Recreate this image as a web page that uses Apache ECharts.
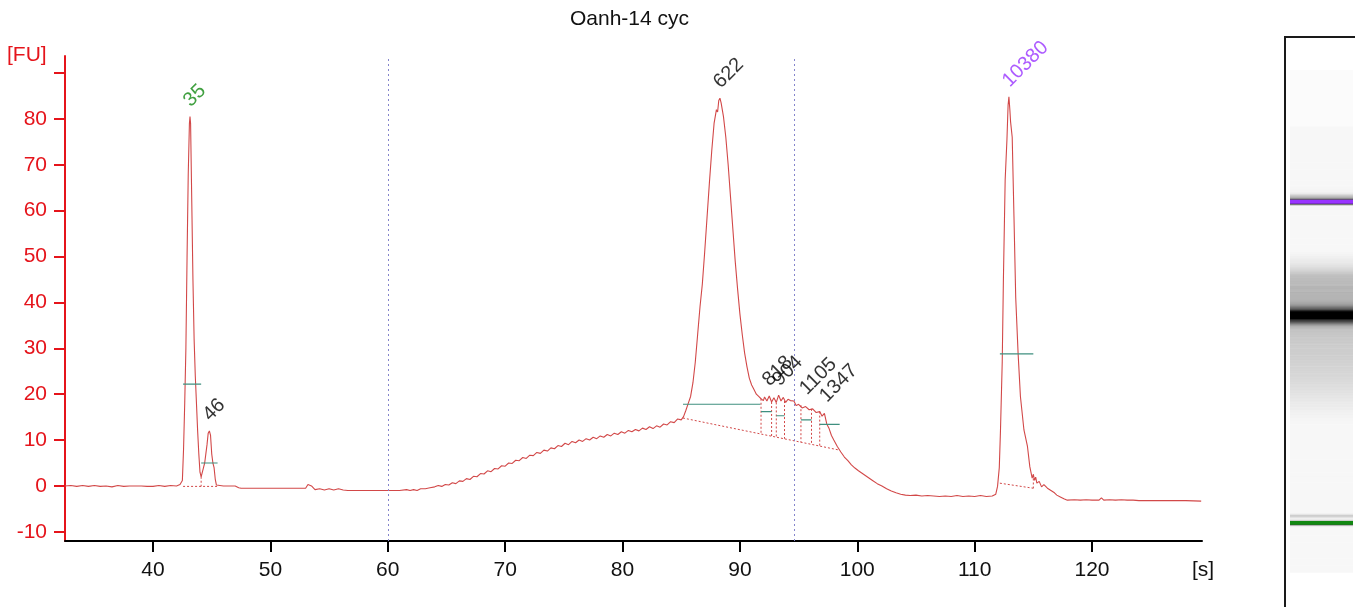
<!DOCTYPE html>
<html><head><meta charset="utf-8">
<script src="https://cdn.jsdelivr.net/npm/echarts@6/dist/echarts.min.js"></script>
<style>html,body{margin:0;padding:0;background:#fff;}#c{width:1355px;height:607px;}</style>
</head><body><div id="c"></div>
<script>
// ---------------- data ----------------
const chartTitle = 'Oanh-14 cyc';
const yUnit = '[FU]';
const xUnit = '[s]';
const xTicks = [40, 50, 60, 70, 80, 90, 100, 110, 120];
const yTicks = [-10, 0, 10, 20, 30, 40, 50, 60, 70, 80, 90];
const yLabels = [-10, 0, 10, 20, 30, 40, 50, 60, 70, 80];
const dividerTimes = [60, 94.6];

// electropherogram trace [time s, FU]
const trace = [
 [32.5,0],[33,0.1],[33.5,-0.1],[34,0.1],[34.5,-0.1],[35,0.1],[35.5,-0.1],[36,0],[36.5,-0.2],[37,0.1],
 [37.5,-0.1],[38,0],[38.5,0],[39,0],[39.5,-0.1],[40,-0.1],[40.5,0.1],[41,-0.1],[41.5,0.1],[42,0],
 [42.3,0.3],[42.5,1.2],[42.6,8],[42.7,18],[42.8,30],[42.9,50],[43.0,68],[43.1,79],[43.15,80.5],[43.2,79],
 [43.3,62],[43.4,45],[43.5,32],[43.6,24],[43.7,18],[43.8,12],[43.9,7],[44.0,3],[44.1,2],[44.2,2],
 [44.3,4],[44.4,5],[44.5,7],[44.6,9],[44.7,11.5],[44.8,12],[44.9,11],[45.0,7],[45.1,5],[45.2,4],
 [45.3,1.5],[45.4,0.2],[45.5,0],[46,0],[46.5,0],[47,0],[47.3,-0.4],[47.5,-0.5],[48,-0.5],[49,-0.5],
 [50,-0.5],[51,-0.5],[52,-0.5],[53,-0.5],[53.2,0.3],[53.5,0],[53.8,-0.8],[54.2,-0.6],[54.6,-0.9],[55,-0.6],
 [55.4,-0.9],[55.8,-0.6],[56.2,-0.9],[56.6,-1.0],[57,-1.0],[58,-1.0],[59,-1.0],[60,-1.0],[61,-1.0],[61.6,-0.8],
 [61.9,-1.0],[62.2,-0.8],[62.5,-1.0],[62.8,-0.6],[63.2,-0.6],[63.6,-0.4],
 [64.0,-0.2],[64.3,0.1],[64.6,-0.1],[64.9,0.3],[65.2,0.2],[65.5,0.7],[65.8,0.5],[66.1,1.1],[66.4,1.0],[66.7,1.6],
 [67.0,1.4],[67.3,2.1],[67.6,2.0],[67.9,2.7],[68.2,2.6],[68.5,3.3],[68.8,3.1],[69.1,3.8],[69.4,3.7],[69.7,4.4],
 [70.0,4.3],[70.3,5.0],[70.6,4.9],[70.9,5.6],[71.2,5.5],[71.5,6.2],[71.8,6.0],[72.1,6.7],[72.4,6.6],[72.7,7.3],
 [73.0,7.1],[73.3,7.8],[73.6,7.6],[73.9,8.3],[74.2,8.1],[74.5,8.8],[74.8,8.6],[75.1,9.3],[75.4,9.0],[75.7,9.7],
 [76.0,9.4],[76.3,10.0],[76.6,9.7],[76.9,10.3],[77.2,10.0],[77.5,10.6],[77.8,10.3],[78.1,10.9],[78.4,10.6],[78.7,11.2],
 [79.0,10.9],[79.3,11.5],[79.6,11.2],[79.9,11.8],[80.2,11.5],[80.5,12.1],[80.8,11.8],[81.1,12.3],[81.4,12.0],[81.7,12.6],
 [82.0,12.3],[82.3,12.9],[82.6,12.5],[82.9,13.1],[83.2,12.8],[83.5,13.5],[83.8,13.3],[84.1,14.0],[84.4,13.8],[84.7,14.6],
 [85.0,14.4],[85.2,15.1],[85.4,16.5],[85.6,18.0],[85.8,19.5],[86.0,22.5],[86.2,27],[86.4,33],[86.6,39],[86.8,44],[87.0,51],
 [87.2,58.5],[87.4,66],[87.6,73],[87.8,79],[88.0,82],[88.1,81.5],[88.2,84],[88.3,84.5],[88.4,83.5],[88.6,80.5],
 [88.8,76],[89.0,70],[89.2,63],[89.4,56],[89.6,49],[89.8,43],[90.0,37.5],[90.2,33],[90.4,29],[90.6,26],
 [90.8,23.5],[91.0,22],[91.2,21],[91.4,20],[91.6,19.5],[91.8,19],[92.0,18.6],[92.1,19.4],[92.3,18.5],[92.5,19.6],
 [92.7,18.3],[92.9,19.2],[93.1,18.2],[93.3,19.8],[93.5,18.5],[93.7,19.3],[93.9,18.2],[94.1,18.9],[94.3,18.6],[94.6,18.5],
 [94.8,17.5],[95.0,17.8],[95.3,17.0],[95.6,17.3],[95.9,16.6],[96.2,16.8],[96.5,16.0],[96.8,16.2],[97.0,15.2],[97.2,15.8],
 [97.4,13.5],[97.6,12.5],[97.8,11.0],[98.0,10.0],[98.3,8.6],[98.6,7.4],[98.9,6.3],[99.2,5.5],[99.5,4.6],[99.8,3.9],
 [100.1,3.3],[100.5,2.6],[100.9,1.9],[101.3,1.2],[101.7,0.5],[102.1,0],[102.5,-0.6],[102.9,-1.1],[103.3,-1.5],[103.7,-1.8],
 [104.1,-2.0],[104.5,-2.1],[105,-2.0],[105.5,-2.2],[106,-2.1],[106.5,-2.2],[107,-2.3],[107.5,-2.2],[108,-2.3],[108.5,-2.1],
 [109,-2.3],[109.5,-2.2],[110,-2.3],[110.5,-2.1],[111,-2.3],[111.5,-2.2],[111.8,-1.8],[111.95,-0.1],[112.1,4],[112.2,12],
 [112.35,27],[112.45,45],[112.6,66.7],[112.75,75.4],[112.85,83],[112.92,84.8],[113.0,82],[113.06,79.4],[113.2,76],[113.35,58.7],
 [113.5,41],[113.7,29],[113.9,19.5],[114.2,12.2],[114.5,8.6],[114.7,4.2],[114.9,1.7],[115.0,2.5],[115.1,1.2],[115.2,1.9],
 [115.3,0.6],[115.5,1.0],[115.7,-0.2],[115.9,0.3],[116.2,-0.5],[116.5,-1.0],[116.8,-1.5],[117,-2.0],[117.3,-2.4],[117.6,-2.8],
 [117.9,-3.1],[118.5,-3.0],[119,-3.1],[119.5,-3.0],[120,-3.1],[120.6,-3.1],[120.8,-2.6],[121,-3.1],[121.5,-3.0],[122,-3.1],
 [122.5,-3.0],[123,-3.1],[123.5,-3.1],[124,-3.2],[125,-3.2],[126,-3.2],[127,-3.2],[128,-3.2],[129.3,-3.3]
];

// peak annotations
const peakNames = ['35', '46', '622', '818', '904', '1105', '1347', '10380'];
const peakTime  = [43.15, 44.8, 88.3, 92.48, 93.33, 95.65, 97.35, 112.92];
const peakFU    = [80.5, 12.0, 84.5, 19.6, 19.6, 17.7, 16.1, 84.8];
const peakKind  = ['lower', 'sample', 'sample', 'sample', 'sample', 'sample', 'sample', 'upper'];
// half-height bars [start s, end s, FU]
const halfStart = [42.56, 44.1, 85.15, 91.8, 93.1, 95.2, 96.8, 112.15];
const halfEnd   = [44.1, 45.5, 91.75, 92.7, 93.8, 96.1, 98.5, 115.0];
const halfFU    = [22.2, 5.0, 17.8, 16.2, 15.3, 14.4, 13.4, 28.8];
// baselines [t0, fu0, t1, fu1]
const baselines = [[42.56, -0.1, 45.5, -0.1], [85.15, 14.8, 98.5, 7.8], [112.15, 0.6, 115.0, -0.5]];
// peak boundary drops
const dropTime   = [44.1, 91.8, 92.7, 93.1, 93.8, 95.2, 96.1, 96.8, 115.0];
const dropTop    = [2.0, 19.0, 18.3, 18.2, 18.5, 17.6, 16.8, 16.2, 2.5];
const dropBottom = [-0.1, 11.3, 10.8, 10.6, 10.3, 9.5, 9.0, 8.7, -0.5];
// gel marker bands [t0, t1]
const markerBands = [[42.75, 43.6], [112.5, 113.35]];
const markerKinds = ['lower', 'upper'];

// ---------------- style ----------------
const RED = '#e5141b';
const TRACE = '#d24848';
const TEAL = '#3f8f7f';
const FONT = 'Liberation Sans';
const kindColor = { lower: '#118811', upper: '#9933ff', sample: '#000000' };

const chart = echarts.init(document.getElementById('c'), null, { renderer: 'canvas' });

const series = [];
series.push({
  type: 'line', data: trace, showSymbol: false, silent: true, z: 3,
  lineStyle: { color: TRACE, width: 1.1 },
  markLine: {
    silent: true, symbol: 'none', label: { show: false },
    lineStyle: { color: '#8585cc', type: [2, 3], width: 1 },
    data: dividerTimes.map(t => ({ xAxis: t }))
  }
});
halfStart.forEach((s, i) => {
  series.push({ type: 'line', data: [[s, halfFU[i]], [halfEnd[i], halfFU[i]]], showSymbol: false, silent: true, z: 4,
    lineStyle: { color: TEAL, width: 1.2 } });
});
baselines.forEach(b => {
  series.push({ type: 'line', data: [[b[0], b[1]], [b[2], b[3]]], showSymbol: false, silent: true, z: 2,
    lineStyle: { color: TRACE, width: 1, type: [2, 2] } });
});
dropTime.forEach((t, i) => {
  series.push({ type: 'line', data: [[t, dropTop[i]], [t, dropBottom[i]]], showSymbol: false, silent: true, z: 2,
    lineStyle: { color: TRACE, width: 1, type: [2, 2] } });
});
series.push({
  type: 'scatter', symbolSize: 2, itemStyle: { color: 'rgba(0,0,0,0)' }, silent: true, z: 6,
  data: peakNames.map((n, i) => ({ value: [peakTime[i], peakFU[i]], name: n,
    label: { show: true, color: kindColor[peakKind[i]] } })),
  label: { show: true, formatter: p => p.name, position: [5, -5], rotate: 45, align: 'left',
    verticalAlign: 'bottom', fontSize: 20, fontFamily: FONT },
  labelLayout: { hideOverlap: false }
});

// gel lane
const gelData = [];
for (let i = 0; i < trace.length - 1; i++) gelData.push([trace[i][0], trace[i + 1][0], trace[i][1]]);
const gelIndex = series.length;
series.push({
  type: 'custom', xAxisIndex: 1, yAxisIndex: 1, silent: true, data: gelData,
  dimensions: ['t0', 't1', 'fu'], encode: { y: [0, 1] },
  renderItem: (params, api) => {
    const a = api.coord([0, api.value(0)]);
    const b = api.coord([1, api.value(1)]);
    return { type: 'rect', shape: { x: a[0], y: b[1], width: b[0] - a[0], height: a[1] - b[1] + 0.6 },
      style: { fill: api.visual('color') } };
  }
});
series.push({
  type: 'custom', xAxisIndex: 1, yAxisIndex: 1, silent: true, z: 5,
  data: markerBands.map((m, i) => ({ value: [m[0], m[1]] })),
  encode: { y: [0, 1] },
  renderItem: (params, api) => {
    const a = api.coord([0, api.value(0)]);
    const b = api.coord([1, api.value(1)]);
    return { type: 'rect', shape: { x: a[0], y: b[1], width: b[0] - a[0], height: a[1] - b[1] },
      style: { fill: kindColor[markerKinds[params.dataIndex]] } };
  }
});

chart.setOption({
  animation: false,
  backgroundColor: '#ffffff',
  title: { text: chartTitle, left: 565, top: 4,
    textStyle: { fontSize: 21, fontWeight: 'normal', color: '#111', fontFamily: FONT } },
  grid: [
    { left: 65, right: 153, top: 56, bottom: 66, containLabel: false },
    { left: 1290, right: 2, top: 126, bottom: 33, containLabel: false }
  ],
  xAxis: [
    { type: 'value', gridIndex: 0, min: 32.5, max: 129.37,
      axisLine: { show: true, onZero: false, lineStyle: { color: '#000', width: 2 } },
      axisTick: { show: true, length: 11, lineStyle: { color: '#000', width: 2 }, customValues: xTicks },
      axisLabel: { color: '#111', fontSize: 21, fontFamily: FONT, margin: 19, customValues: xTicks },
      splitLine: { show: false } },
    { type: 'value', gridIndex: 1, min: 0, max: 1, show: false }
  ],
  yAxis: [
    { type: 'value', gridIndex: 0, min: -12, max: 93.7,
      axisLine: { show: true, onZero: false, lineStyle: { color: RED, width: 2 } },
      axisTick: { show: true, length: 11, lineStyle: { color: RED, width: 2 }, customValues: yTicks },
      axisLabel: { color: RED, fontSize: 21, fontFamily: FONT, margin: 18, customValues: yLabels },
      splitLine: { show: false } },
    { type: 'value', gridIndex: 1, min: 32.08, max: 129.37, show: false }
  ],
  visualMap: { type: 'continuous', show: false, seriesIndex: gelIndex, dimension: 2, min: 0, max: 70,
    inRange: { color: ['#f7f7f7', '#000000'] } },
  graphic: [
    { type: 'text', left: 7, top: 45, style: { text: yUnit, fill: RED, fontSize: 21, fontFamily: FONT } },
    { type: 'text', left: 1192, top: 560, style: { text: xUnit, fill: '#111', fontSize: 21, fontFamily: FONT } },
    { type: 'rect', shape: { x: 1290, y: 70, width: 63, height: 56 }, style: { fill: '#fbfbfb' } },
    { type: 'polyline', shape: { points: [[1285, 607], [1285, 37], [1355, 37]] },
      style: { stroke: '#1a1a1a', lineWidth: 2, fill: null } }
  ],
  series: series
});
</script></body></html>
